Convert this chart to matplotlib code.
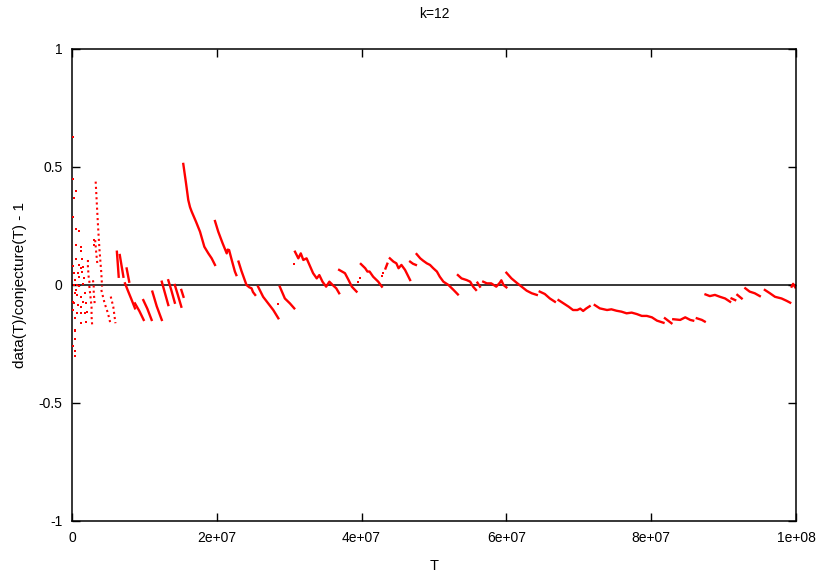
import numpy as np
import matplotlib
matplotlib.use('Agg')
import matplotlib.pyplot as plt

plt.rcParams['font.family'] = ['Liberation Sans', 'DejaVu Sans']

# 눈금
x_ticks = [0, 2e7, 4e7, 6e7, 8e7, 1e8]
x_tick_labels = ['0', '2e+07', '4e+07', '6e+07', '8e+07', '1e+08']
y_ticks = [-1, -0.5, 0, 0.5, 1]
y_tick_labels = ['-1', '-0.5', '0', '0.5', '1']

# 초반 흩어진 점 (T 단위: 1e6)
dot_T = [0.15, 0.2, 0.25, 0.15, 0.5, 0.5, 0.97, 0.55, 1.29, 1.29, 0.55, 1.38, 0.2, 0.9,
         1.2, 1.5, 0.8, 1.0, 1.38, 0.3, 0.7, 1.0, 1.5, 0.35, 0.7, 1.2, 1.8, 1.9, 0.2, 0.3,
         0.8, 1.2, 1.5, 0.2, 0.7, 1.2, 1.8, 2.1, 0.35, 1.2, 1.9, 0.35, 0.35, 0.15, 0.35,
         0.35, 0.4, 3.1, 3.1, 0.25, 0.4, 1.6, 0.6, 28.5, 30.66, 39.55, 39.8, 42.8, 43.0]
dot_y = [0.626, 0.449, 0.367, 0.287, 0.40, 0.236, 0.23, 0.17, 0.162, 0.145, 0.109, 0.11,
         0.08, 0.085, 0.07, 0.078, 0.05, 0.035, 0.056, 0.05, 0.0, -0.004, 0.004, -0.035,
         -0.042, -0.049, -0.035, -0.078, -0.071, -0.078, -0.085, -0.092, -0.071, -0.106,
         -0.12, -0.12, -0.12, -0.113, -0.141, -0.162, -0.155, -0.19, -0.197, -0.26, -0.28,
         -0.30, -0.23, 0.19, 0.17, 0.0, 0.02, 0.03, -0.02, -0.081, 0.09, 0.014, 0.028,
         0.038, 0.05]

# 초반 점선 줄기
sparse_T = [
    [2.2, 2.2, 2.25, 2.3, 2.4, 2.4, 2.5, 2.6, 2.7, 2.7, 2.8],
    [2.9, 3.0, 3.0, 3.1, 3.15],
    [3.27, 3.45, 3.6, 3.8, 4.05, 4.15],
    [3.2, 3.35, 3.5],
    [4.05, 4.5, 4.97, 5.3],
    [5.35, 5.7, 6.0],
]
sparse_y = [
    [0.106, 0.078, 0.056, 0.035, 0.014, -0.007, -0.035, -0.064, -0.092, -0.134, -0.176],
    [0.02, -0.007, -0.035, -0.064, -0.09],
    [0.438, 0.332, 0.247, 0.148, 0.05, -0.007],
    [0.19, 0.135, 0.09],
    [-0.021, -0.077, -0.12, -0.162],
    [-0.049, -0.092, -0.162],
]

# 촘촘한 줄기
run_T = [
    [6.2, 6.3, 6.45], [6.6, 6.8, 7.1], [7.55, 7.9],
    [7.32, 7.8, 8.2, 8.7], [8.7, 9.3, 9.9], [9.85, 10.4, 11.0], [11.1, 11.7, 12.4],
    [12.4, 12.8, 13.3], [13.3, 13.7, 14.2], [14.2, 14.6, 15.1], [15.1, 15.4],
    [15.37, 15.75, 16.06, 16.3, 16.53, 17.13, 17.68, 18.28, 18.83, 19.29, 19.75],
    [19.75, 20.2, 20.8, 21.37, 21.5, 21.7, 22.06, 22.5, 22.7],
    [23.0, 23.4, 24.1, 24.5, 24.8, 25.0, 25.3],
    [25.7, 26.4, 27.1, 27.8, 28.5],
    [28.7, 29.4, 30.1, 30.7],
    [30.8, 31.26, 31.6, 31.95, 32.4, 32.8, 33.3, 33.8, 34.16, 34.6, 35.1, 35.55, 36.0, 36.5, 36.9],
    [36.9, 37.7, 38.2, 38.65, 39.3],
    [39.9, 40.5, 40.8, 41.1, 41.6, 42.3, 42.8],
    [43.3, 43.55],
    [43.9, 44.4, 44.8, 45.1, 45.5, 46.0, 46.7],
    [46.7, 47.1, 47.5],
    [47.6, 48.1, 48.5, 49.0, 49.45, 49.9, 50.4, 50.8, 51.3, 52.0, 52.7, 53.3],
    [53.3, 53.8, 54.5, 55.0, 55.4, 55.8],
    [56.0, 56.35],
    [56.8, 57.3, 57.9, 58.6, 59.1, 59.3, 59.6, 60.0],
    [60.0, 60.7, 61.4, 62.1, 62.8, 63.5, 64.2],
    [64.6, 65.3, 66.0, 66.7],
    [67.2, 67.9, 68.6, 69.2, 69.8, 70.2, 70.6, 71.0, 71.5],
    [72.2, 72.9, 73.9, 74.5, 75.2, 75.9, 76.6, 77.3, 78.0, 78.7, 79.4, 80.1, 80.8, 81.7],
    [81.9, 82.8],
    [83.05, 84.0, 84.7, 85.4, 85.8],
    [86.3, 87.0, 87.4],
    [87.5, 88.1, 88.8, 89.5, 90.2, 90.9],
    [91.1, 91.6], [91.9, 92.5],
    [93.0, 93.6, 94.3, 95.0],
    [95.7, 96.4, 97.1, 98.0, 98.7, 99.2],
    [99.4, 99.6, 99.9],
]
run_y = [
    [0.141, 0.1, 0.035], [0.127, 0.09, 0.035], [0.07, 0.014],
    [0.007, -0.03, -0.06, -0.099], [-0.078, -0.11, -0.148], [-0.064, -0.1, -0.148],
    [-0.028, -0.09, -0.148],
    [0.014, -0.03, -0.085], [0.02, -0.02, -0.075], [0.0, -0.04, -0.092], [-0.021, -0.05],
    [0.513, 0.431, 0.36, 0.33, 0.311, 0.268, 0.226, 0.162, 0.134, 0.113, 0.085],
    [0.271, 0.226, 0.177, 0.134, 0.15, 0.148, 0.106, 0.057, 0.042],
    [0.099, 0.06, 0.0, -0.01, -0.014, -0.03, -0.042],
    [-0.007, -0.05, -0.078, -0.106, -0.141],
    [-0.007, -0.057, -0.078, -0.099],
    [0.141, 0.113, 0.134, 0.106, 0.113, 0.085, 0.05, 0.028, 0.042, 0.014, -0.007, 0.014, 0.0, -0.014, -0.035],
    [0.064, 0.05, 0.021, -0.007, -0.028],
    [0.089, 0.071, 0.057, 0.057, 0.035, 0.014, -0.007],
    [0.07, 0.09],
    [0.113, 0.099, 0.092, 0.071, 0.085, 0.064, 0.021],
    [0.099, 0.09, 0.085],
    [0.131, 0.113, 0.103, 0.092, 0.085, 0.071, 0.057, 0.035, 0.014, 0.0, -0.021, -0.04],
    [0.042, 0.028, 0.021, 0.014, -0.007, -0.021],
    [0.01, -0.007],
    [0.014, 0.007, 0.007, -0.007, 0.01, 0.02, 0.0, -0.01],
    [0.052, 0.028, 0.01, -0.007, -0.024, -0.035, -0.042],
    [-0.028, -0.038, -0.057, -0.071],
    [-0.064, -0.078, -0.092, -0.106, -0.106, -0.1, -0.11, -0.1, -0.09],
    [-0.085, -0.099, -0.106, -0.103, -0.109, -0.113, -0.12, -0.117, -0.123, -0.131, -0.131, -0.137, -0.151, -0.16],
    [-0.141, -0.162],
    [-0.145, -0.148, -0.137, -0.148, -0.151],
    [-0.141, -0.148, -0.155],
    [-0.04, -0.047, -0.042, -0.05, -0.057, -0.071],
    [-0.057, -0.064], [-0.042, -0.057],
    [-0.014, -0.028, -0.035, -0.047],
    [-0.021, -0.035, -0.05, -0.057, -0.067, -0.075],
    [-0.007, 0.005, -0.01],
]

fig = plt.figure(figsize=(8.23, 5.78), dpi=100)
ax = fig.add_axes([72/823, 57/578, 724/823, 472/578])

# 0 기준선
ax.axhline(0, color='black', lw=1.1, zorder=1)

red = '#ff0000'
ax.plot(np.array(dot_T)*1e6, dot_y, 's', color=red, ms=1.5, mew=0, zorder=3)
for t, v in zip(sparse_T, sparse_y):
    ax.plot(np.array(t)*1e6, v, color=red, lw=1.5, ls=(0, (1, 1.5)), zorder=2)
for t, v in zip(run_T, run_y):
    ax.plot(np.array(t)*1e6, v, color=red, lw=1.7, zorder=2)

ax.set_xlim(0, 1e8)
ax.set_ylim(-1, 1)
ax.set_xticks(x_ticks)
ax.set_xticklabels(x_tick_labels)
ax.set_yticks(y_ticks)
ax.set_yticklabels(y_tick_labels)
ax.tick_params(direction='in', length=6, width=1, top=True, right=True,
               labelsize=10, pad=7)
for s in ax.spines.values():
    s.set_linewidth(1.1)

ax.set_xlabel('T', fontsize=10.5, labelpad=10)
ax.set_ylabel('data(T)/conjecture(T) - 1', fontsize=11, labelpad=8)
ax.set_title('k=12', fontsize=10, pad=22)

fig.savefig('out.png', dpi=100)
